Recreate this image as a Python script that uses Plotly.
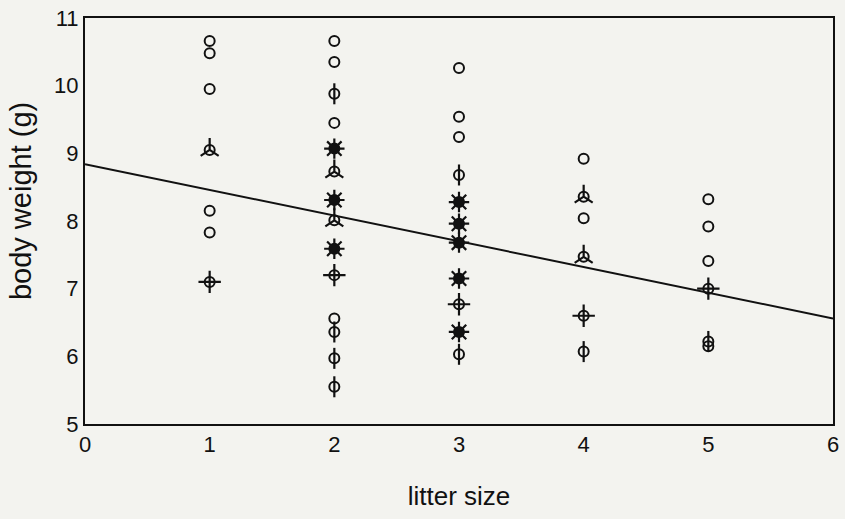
import plotly.graph_objects as go

# litter size, body weight (g), number of sunflower petals (0 = plain circle)
litter = [1, 1, 1, 1, 1, 1, 1,
          2, 2, 2, 2, 2, 2, 2, 2, 2, 2, 2, 2, 2, 2,
          3, 3, 3, 3, 3, 3, 3, 3, 3, 3, 3,
          4, 4, 4, 4, 4, 4,
          5, 5, 5, 5, 5, 5]
weight = [10.66, 10.48, 9.95, 9.05, 8.15, 7.83, 7.10,
          10.66, 10.35, 9.88, 9.45, 9.07, 8.73, 8.31, 8.01, 7.59, 7.20, 6.56, 6.36, 5.97, 5.55,
          10.26, 9.54, 9.24, 8.68, 8.28, 7.96, 7.68, 7.15, 6.77, 6.36, 6.03,
          8.92, 8.36, 8.04, 7.47, 6.60, 6.07,
          8.32, 7.92, 7.41, 7.00, 6.22, 6.15]
petals = [0, 0, 0, 3, 0, 0, 4,
          0, 0, 2, 0, 8, 3, 8, 3, 8, 4, 0, 2, 2, 2,
          0, 0, 0, 2, 8, 8, 8, 8, 4, 8, 2,
          0, 3, 0, 3, 4, 2,
          0, 0, 0, 4, 2, 0]

# fitted regression line
fit_intercept = 8.84
fit_slope = -0.38
x_range = [0, 6]
y_range = [5, 11]
x_ticks = [0, 1, 2, 3, 4, 5, 6]
y_ticks = [5, 6, 7, 8, 9, 10, 11]
x_title = "litter size"
y_title = "body weight (g)"

INK = "#111111"
BG = "#f3f3ef"
TITLE_FONT = "Liberation Sans Narrow, Liberation Sans, Arial, sans-serif"

fig = go.Figure()

# regression line
fig.add_trace(go.Scatter(
    x=x_range, y=[fit_intercept + fit_slope * v for v in x_range],
    mode="lines", line=dict(color=INK, width=2), hoverinfo="skip", showlegend=False))

# base circles for every observation
fig.add_trace(go.Scatter(
    x=litter, y=weight, mode="markers",
    marker=dict(symbol="circle-open", size=10, color=INK, line=dict(width=2, color=INK)),
    showlegend=False))

petal_style = {
    2: ("line-ns-open", 15),
    3: ("y-up-open", 15),
    4: ("cross-thin-open", 16),
    8: ("asterisk-open", 17),
}
for n, (sym, sz) in petal_style.items():
    xs = [l for l, p in zip(litter, petals) if p == n]
    ys = [w for w, p in zip(weight, petals) if p == n]
    if n == 8:
        fig.add_trace(go.Scatter(
            x=xs, y=ys, mode="markers",
            marker=dict(symbol="circle", size=10, color=INK, line=dict(width=0)),
            showlegend=False))
    fig.add_trace(go.Scatter(
        x=xs, y=ys, mode="markers",
        marker=dict(symbol=sym, size=sz, color=INK, line=dict(width=2.2, color=INK)),
        showlegend=False))

axis_common = dict(
    showline=True, mirror=True, linecolor=INK, linewidth=2,
    showgrid=False, zeroline=False, ticks="", automargin=False,
    tickfont=dict(family="Liberation Sans, Arial, sans-serif", size=22, color=INK),
)
fig.update_xaxes(range=x_range, tickvals=x_ticks,
                 title=dict(text=x_title, standoff=30,
                            font=dict(family=TITLE_FONT, size=26, color=INK)),
                 **axis_common)
fig.update_yaxes(range=y_range, tickvals=y_ticks, **axis_common)

fig.add_annotation(
    text=y_title, textangle=-90, showarrow=False,
    xref="paper", yref="paper", x=-0.0856, y=0.549,
    xanchor="center", yanchor="middle",
    font=dict(family=TITLE_FONT, size=29, color=INK))

fig.update_layout(
    width=845, height=519,
    margin=dict(l=85, r=12, t=18, b=95),
    plot_bgcolor=BG, paper_bgcolor=BG,
    showlegend=False,
)

fig.write_html("out.html", config={"displayModeBar": False},
               post_script="document.body.style.margin='0';document.body.style.background='%s';" % BG)
